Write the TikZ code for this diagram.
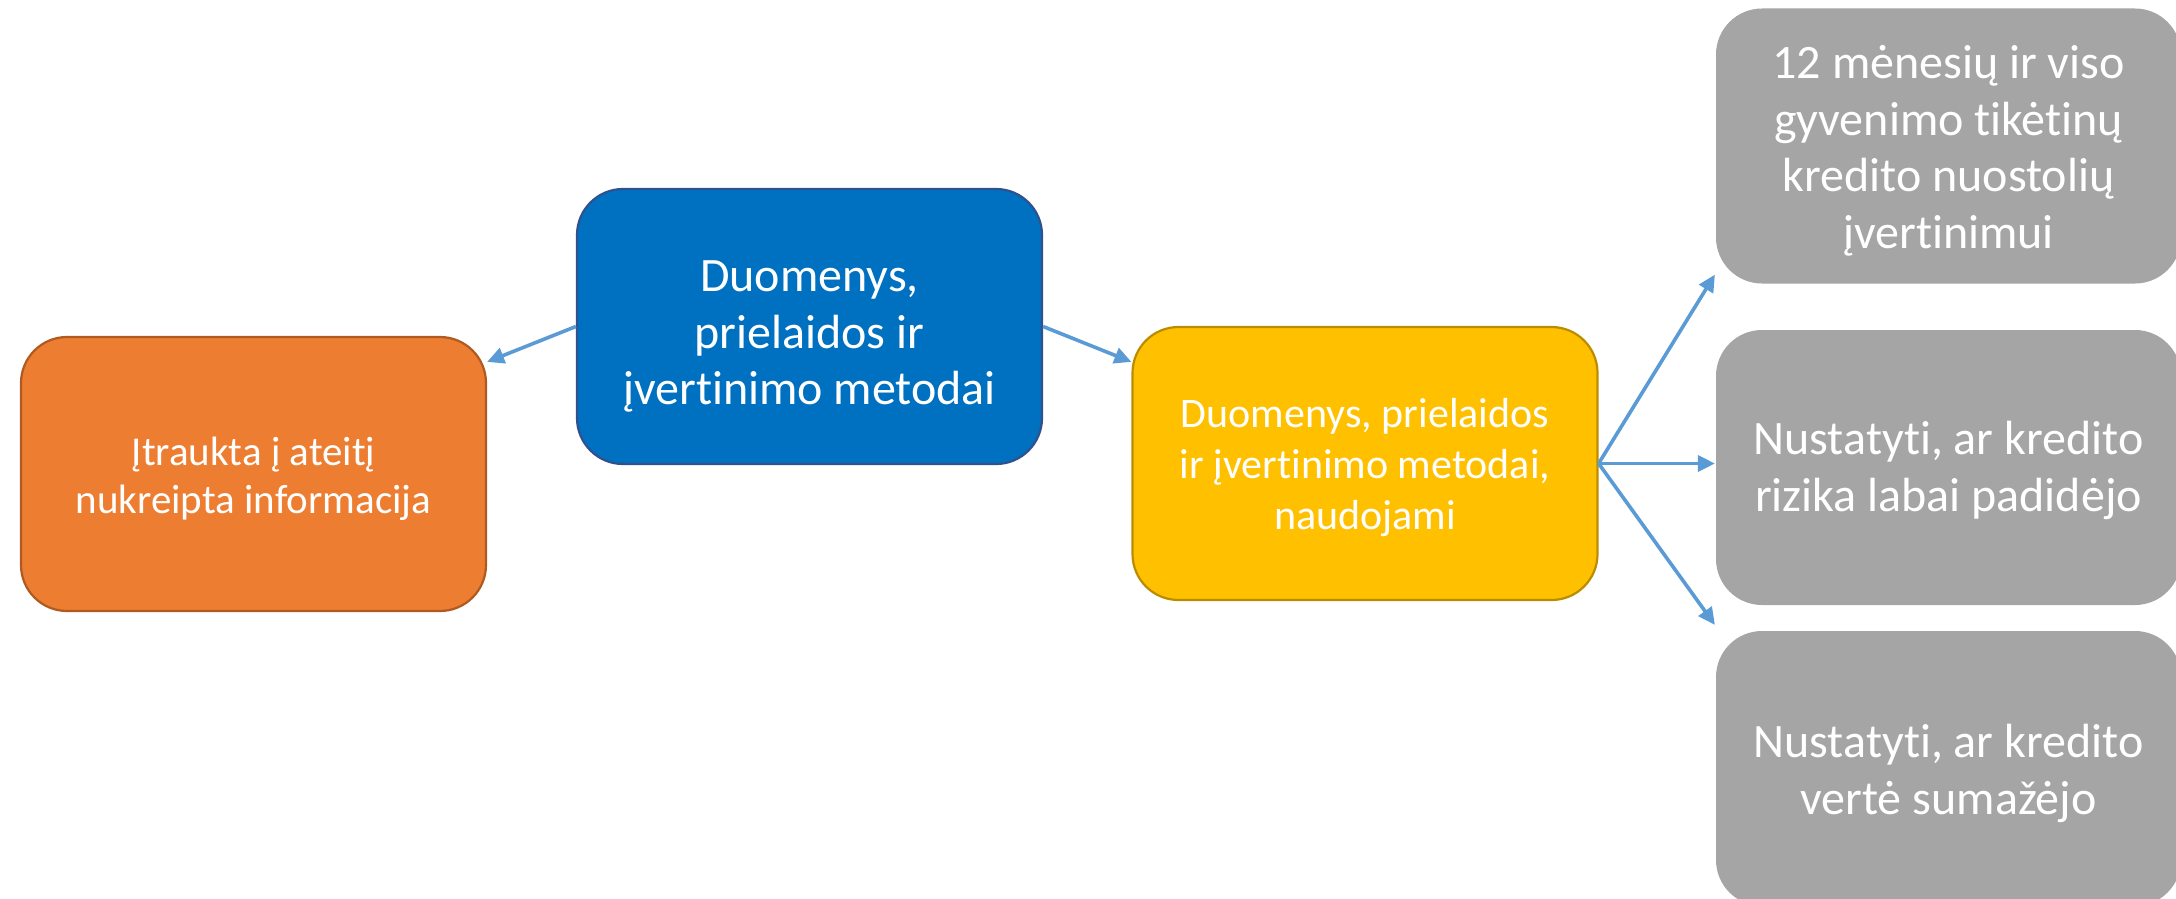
\documentclass[tikz,border=0pt]{standalone}
\usepackage{fontspec}
\setmainfont[Ligatures={NoCommon}]{Carlito}
\usetikzlibrary{arrows.meta,calc}
\definecolor{orangef}{HTML}{ED7D31}
\definecolor{oranged}{HTML}{AE5A21}
\definecolor{bluef}{HTML}{0070C0}
\definecolor{blued}{HTML}{2F528F}
\definecolor{yellowf}{HTML}{FFC000}
\definecolor{yellowd}{HTML}{BC8C00}
\definecolor{greyf}{HTML}{A5A5A5}
\definecolor{arrowc}{HTML}{5B9BD5}
\begin{document}
\begin{tikzpicture}[x=1pt,y=-1pt,
  box/.style={rounded corners=46pt, minimum width=465pt, minimum height=275pt,
    inner sep=0pt, line width=2.2pt},
  txt/.style={inner sep=0pt, align=center, text=white},
  big/.style={font=\fontsize{48}{56.5}\selectfont},
  mid/.style={font=\fontsize{42}{51}\selectfont},
  small/.style={font=\fontsize{41}{48}\selectfont},
  arr/.style={draw=arrowc, line width=3.6pt, -{Triangle[length=17pt,width=16pt]}}]
\useasboundingbox (0,0) rectangle (2176,899);
\clip (0,0) rectangle (2176,899);
\node[box, fill=orangef, draw=oranged, minimum height=274pt] (orange) at (253.5,474) {};
\node[box, fill=bluef, draw=blued] (blue) at (809.5,326.5) {};
\node[box, fill=yellowf, draw=yellowd, minimum height=273pt] (yellow) at (1365,463.5) {};
\node[box, fill=greyf] (g1) at (1948.5,146) {};
\node[box, fill=greyf] (g2) at (1948.5,467.5) {};
\node[box, fill=greyf] (g3) at (1948.5,768.5) {};
\node[txt, small] (orange-t) at ([yshift=-5pt]orange.center) {Įtraukta į ateitį\\nukreipta informacija};
\node[txt, big] (blue-t) at ([yshift=-10pt]blue.center) {Duomenys,\\prielaidos ir\\įvertinimo metodai};
\node[txt, mid] (yellow-t) at ([yshift=-4pt]yellow.center) {Duomenys, prielaidos\\ir įvertinimo metodai,\\naudojami};
\node[txt, big] (g1-t) at ([yshift=-5pt]g1.center) {12 mėnesių ir viso\\gyvenimo tikėtinų\\kredito nuostolių\\įvertinimui};
\node[txt, big] (g2-t) at ([yshift=-3pt]g2.center) {Nustatyti, ar kredito\\rizika labai padidėjo};
\node[txt, big] (g3-t) at ([yshift=-5pt]g3.center) {Nustatyti, ar kredito\\vertė sumažėjo};
\draw[arr] (blue.west) -- ([yshift=-26pt]orange.north east);
\draw[arr] (blue.east) -- ([yshift=-36pt]yellow.north west);
\draw[arr] (yellow.east) -- ([yshift=10pt]g1.south west);
\draw[arr] (yellow.east) -- (yellow.east -| g2.west);
\draw[arr] (yellow.east) -- ([yshift=5pt]g3.north west);
\end{tikzpicture}
\end{document}
